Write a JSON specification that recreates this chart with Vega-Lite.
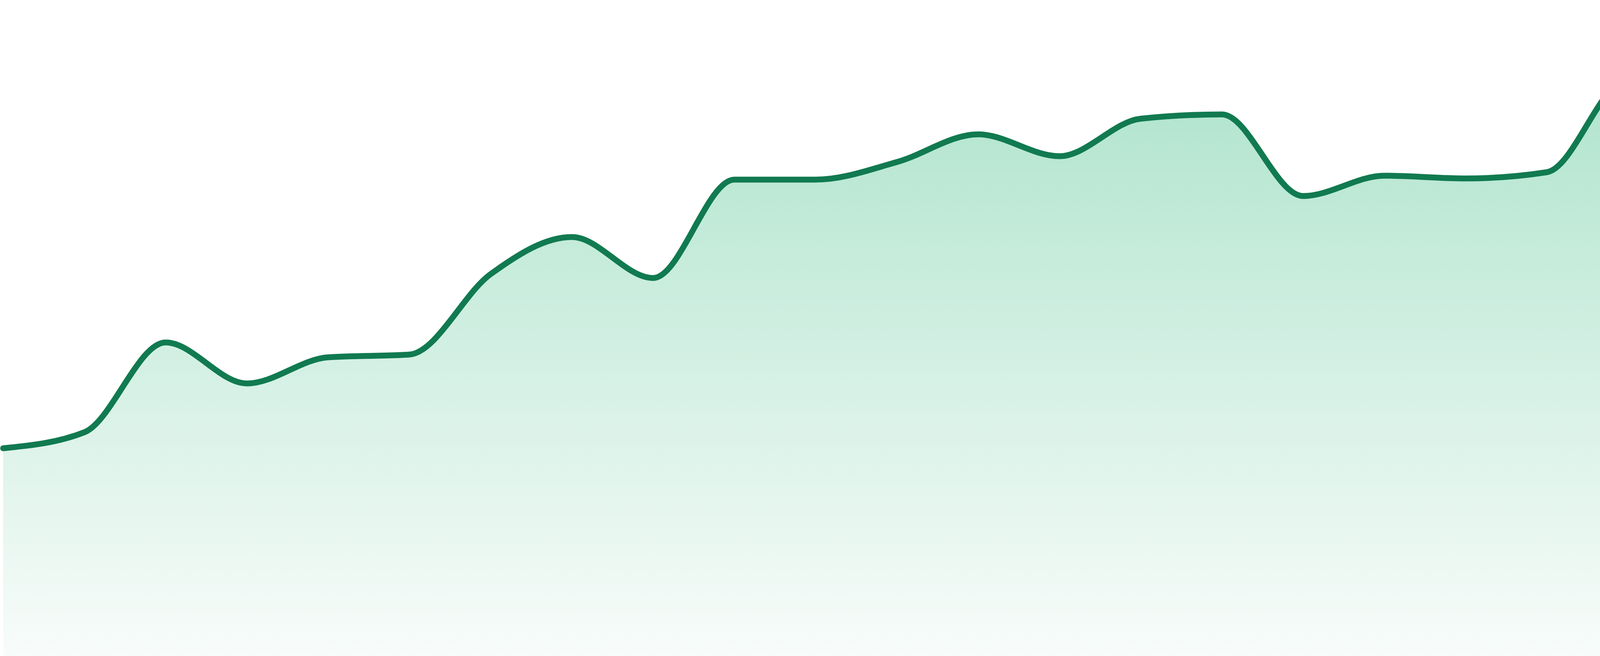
{
  "$schema": "https://vega.github.io/schema/vega-lite/v6.json",
  "width": 4800,
  "height": 1680,
  "autosize": {"type": "fit", "contains": "padding"},
  "padding": 0,
  "background": "white",
  "config": {"view": {"stroke": null}},
  "data": {"values": [
    {"t": 0, "v": 532},
    {"t": 1, "v": 573},
    {"t": 2, "v": 803},
    {"t": 3, "v": 698},
    {"t": 4, "v": 765},
    {"t": 5, "v": 772},
    {"t": 6, "v": 978},
    {"t": 7, "v": 1073},
    {"t": 8, "v": 968},
    {"t": 9, "v": 1220},
    {"t": 10, "v": 1220},
    {"t": 11, "v": 1265},
    {"t": 12, "v": 1336},
    {"t": 13, "v": 1280},
    {"t": 14, "v": 1376},
    {"t": 15, "v": 1387},
    {"t": 16, "v": 1178},
    {"t": 17, "v": 1230},
    {"t": 18, "v": 1223},
    {"t": 19, "v": 1239},
    {"t": 20, "v": 1477},
    {"t": 21, "v": 1282},
    {"t": 22, "v": 1345},
    {"t": 23, "v": 1120}
  ]},
  "encoding": {
    "x": {"field": "t", "type": "quantitative", "axis": null, "scale": {"domain": [0, 23], "nice": false, "zero": false}},
    "y": {"field": "v", "type": "quantitative", "axis": null, "scale": {"domain": [0, 1680], "nice": false}}
  },
  "layer": [
    {
      "mark": {
        "type": "area",
        "interpolate": "monotone",
        "color": {
          "gradient": "linear",
          "x1": 0, "y1": 0, "x2": 0, "y2": 1,
          "stops": [
            {"offset": 0, "color": "#b0e4ce"},
            {"offset": 1, "color": "#f8fcfa"}
          ]
        }
      }
    },
    {
      "mark": {
        "type": "line",
        "interpolate": "monotone",
        "color": "#117a50",
        "strokeWidth": 15,
        "strokeCap": "round",
        "strokeJoin": "round"
      }
    }
  ]
}
